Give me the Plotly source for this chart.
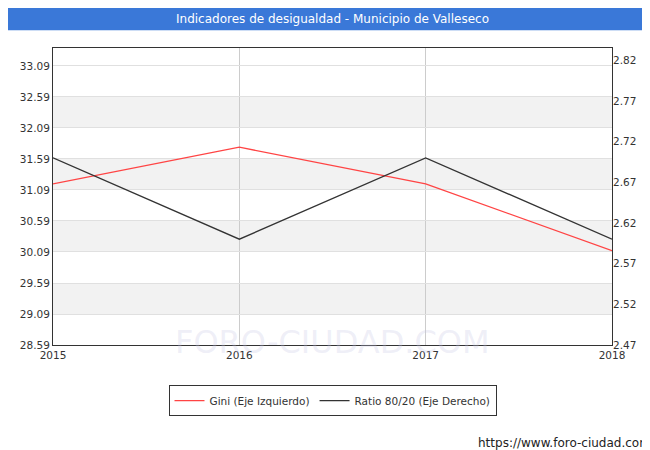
import plotly.graph_objects as go

years = [2015, 2016, 2017, 2018]
gini = [31.19, 31.78, 31.19, 30.11]
ratio = [2.70, 2.60, 2.70, 2.60]
left_ticks = [28.59, 29.09, 29.59, 30.09, 30.59, 31.09, 31.59, 32.09, 32.59, 33.09]
right_ticks = [2.47, 2.52, 2.57, 2.62, 2.67, 2.72, 2.77, 2.82]

fig = go.Figure()
fig.add_trace(go.Scatter(x=years, y=gini, mode='lines', name='Gini (Eje Izquierdo)',
                         line=dict(color='#ff4444', width=1.3)))
fig.add_trace(go.Scatter(x=years, y=ratio, mode='lines', name='Ratio 80/20 (Eje Derecho)',
                         line=dict(color='#333333', width=1.3), yaxis='y2'))

# alternating bands
shapes = []
for lo in [29.09, 30.09, 31.09, 32.09]:
    shapes.append(dict(type='rect', xref='paper', yref='y', x0=0, x1=1, y0=lo, y1=lo + 0.5,
                       fillcolor='#f2f2f2', line_width=0, layer='below'))
# title bar
shapes.append(dict(type='rect', xref='paper', yref='paper', x0=-0.081, x1=1.083, y0=1.06, y1=1.14,
                   fillcolor='#3a78d8', line_width=0))

fig.update_layout(
    width=650, height=450, plot_bgcolor='white', paper_bgcolor='white',
    margin=dict(l=45, r=46, t=40, b=113, autoexpand=False),
    font=dict(family='DejaVu Sans', size=10.5, color='#333'),
    shapes=shapes,
    xaxis=dict(range=[2015, 2018], tickvals=years, showgrid=True, gridcolor='#cccccc',
               linecolor='#333', mirror=True, ticks='', zeroline=False),
    yaxis=dict(range=[28.59, 33.38], tickvals=left_ticks, ticktext=[f'{v:.2f}' for v in left_ticks],
               showgrid=True, gridcolor='#e0e0e0', linecolor='#333', mirror=True, zeroline=False),
    yaxis2=dict(range=[2.47, 2.835], tickvals=right_ticks, ticktext=[f'{v:.2f}' for v in right_ticks],
                overlaying='y', side='right', showgrid=False, zeroline=False),
    showlegend=True,
    legend=dict(orientation='h', x=0.5, xanchor='center', y=-0.135, yanchor='top',
                bordercolor='#333', borderwidth=1, font=dict(size=10.5)),
    annotations=[
        dict(text='Indicadores de desigualdad - Municipio de Valleseco', xref='paper', yref='paper',
             x=0.5, y=1.098, showarrow=False, font=dict(color='white', size=12), yanchor='middle'),
        dict(text='FORO-CIUDAD.COM', xref='paper', yref='paper', x=0.5, y=-0.06, showarrow=False,
             font=dict(color='rgba(200,200,230,0.3)', size=32)),
        dict(text='https://www.foro-ciudad.com', xref='paper', yref='paper', x=1.073, y=-0.33,
             xanchor='right', yanchor='middle', showarrow=False, font=dict(size=12, color='#222')),
    ],
)
fig.write_html("out.html")
